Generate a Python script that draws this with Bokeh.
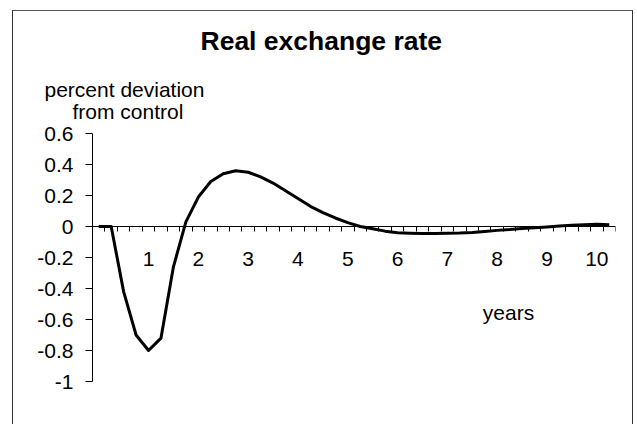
from bokeh.plotting import figure
from bokeh.models import Range1d, FixedTicker, NumeralTickFormatter, Label, Title
from bokeh.embed import file_html
from bokeh.resources import INLINE

# quarterly observations (years after shock)
quarters = [0.0, 0.25, 0.5, 0.75, 1.0, 1.25, 1.5, 1.75, 2.0, 2.25, 2.5, 2.75,
            3.0, 3.25, 3.5, 3.75, 4.0, 4.25, 4.5, 4.75, 5.0, 5.25, 5.5, 5.75,
            6.0, 6.25, 6.5, 6.75, 7.0, 7.25, 7.5, 7.75, 8.0, 8.25, 8.5, 8.75,
            9.0, 9.25, 9.5, 9.75, 10.0, 10.25]
# real exchange rate, percent deviation from control
rer = [0.0, 0.0, -0.42, -0.70, -0.80, -0.72, -0.26, 0.03, 0.19, 0.29, 0.34, 0.36,
       0.35, 0.32, 0.28, 0.23, 0.18, 0.13, 0.09, 0.055, 0.025, 0.0, -0.015, -0.03,
       -0.04, -0.043, -0.045, -0.045, -0.044, -0.042, -0.038, -0.032, -0.025, -0.02,
       -0.013, -0.008, -0.003, 0.003, 0.008, 0.012, 0.014, 0.012]

x_ticks = [1, 2, 3, 4, 5, 6, 7, 8, 9, 10]
y_ticks = [-1, -0.8, -0.6, -0.4, -0.2, 0, 0.2, 0.4, 0.6]
title_text = "Real exchange rate"
y_label_1 = "percent deviation"
y_label_2 = "from control"
x_label = "years"

FONT = "Liberation Sans"
half = (quarters[1] - quarters[0]) / 2
minor = [q + half for q in quarters]

p = figure(width=619, height=413, output_backend="svg", toolbar_location=None,
           x_range=Range1d(quarters[0] - half, quarters[-1] + half),
           y_range=Range1d(y_ticks[0], y_ticks[-1]),
           title=None,
           min_border_left=79, min_border_right=19, min_border_top=122,
           min_border_bottom=44,
           styles={"margin-left": "12px", "margin-top": "10px", "width": "619px",
                   "box-sizing": "content-box",
                   "border-left": "1px solid #333", "border-right": "1px solid #333",
                   "border-top": "1px solid #555"})
p.background_fill_color = "white"
p.border_fill_color = "white"
p.outline_line_color = None
p.grid.visible = False

xa = p.xaxis[0]
xa.fixed_location = 0
xa.ticker = FixedTicker(ticks=x_ticks, minor_ticks=minor)
xa.major_tick_in = 0
xa.major_tick_out = 0
xa.minor_tick_in = 0
xa.minor_tick_out = 5
xa.minor_tick_line_color = "black"
xa.axis_line_color = "black"
xa.major_label_standoff = 20
xa.major_label_text_font = FONT
xa.major_label_text_font_size = "21px"
xa.major_label_text_color = "black"

ya = p.yaxis[0]
ya.ticker = FixedTicker(ticks=y_ticks)
ya.formatter = NumeralTickFormatter(format="0.[0]")
ya.major_tick_out = 7
ya.major_tick_in = 0
ya.minor_tick_in = 0
ya.minor_tick_out = 0
ya.major_tick_line_color = "black"
ya.axis_line_color = "black"
ya.major_label_standoff = 12
ya.major_label_text_font = FONT
ya.major_label_text_font_size = "21px"
ya.major_label_text_color = "black"

p.line(quarters, rer, line_color="black", line_width=3, line_join="round")

def add_title(text, size, offset, standoff, bold=False):
    t = Title(text=text, align="left", offset=offset, standoff=standoff,
              text_font=FONT, text_font_size=size, text_color="black",
              text_font_style="bold" if bold else "normal")
    p.add_layout(t, "above")

add_title(" ", "21px", 0, -2)          # spacing between the frame and the labels
add_title(y_label_2, "21px", -20, -25)
add_title(y_label_1, "21px", -48, 20)
add_title(title_text, "26.5px", 108, 19, bold=True)

p.add_layout(Label(x=416, y=69, x_units="screen", y_units="screen", text=x_label,
                   text_align="center", text_baseline="middle", text_font=FONT,
                   text_font_size="21px", text_color="black"))

open("out.html", "w").write(file_html(p, INLINE))
